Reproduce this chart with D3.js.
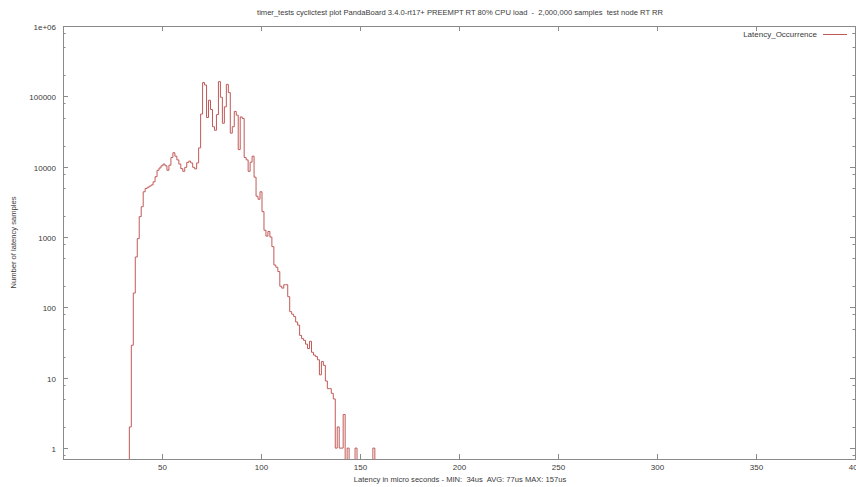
<!DOCTYPE html>
<html>
<head>
<meta charset="utf-8">
<script src="https://cdn.jsdelivr.net/npm/d3@7"></script>
<style>
  body { margin: 0; background: #fff; }
  svg text { font-family: "Liberation Sans", Arial, sans-serif; fill: #3a3a3a; white-space: pre; }
</style>
</head>
<body>
<script>
// latency histogram, one count per microsecond bin starting at firstBin
const firstBin = 34;
const counts = [
    2, 29, 160, 520, 950, 1950, 2700, 4400, 4900, 5100,            // 34-43
    5300, 5500, 6100, 7200, 8900, 9600, 10300, 10900, 10300, 8900, // 44-53
    10500, 13500, 15800, 14100, 12500, 10900, 9400, 8600, 9800, 11500, // 54-63
    12000, 11300, 9800, 9300, 11300, 18500, 56000, 157000, 145000, 50000, // 64-73
    88000, 65000, 37000, 33000, 55000, 162000, 97000, 41500, 71000, 148000, // 74-83
    113000, 30000, 37000, 61000, 54000, 17500, 51000, 48500, 13500, 12500, // 84-93
    8600, 11600, 14100, 7100, 3800, 3450, 4400, 2300, 1250, 1030, // 94-103
    1200, 1000, 730, 400, 372, 323, 200, 188, 210, 210,           // 104-113
    142, 87, 80, 74, 62, 56, 40, 36, 34, 30,                      // 114-123
    26, 33, 23, 21, 20, 18, 11, 17, 15, 9,                        // 124-133
    7, 7, 6, 5, 1, 2, 1, 1, 3, 0,                                 // 134-143
    1, 0, 0, 0, 1, 0, 0, 0, 0, 0,                                 // 144-153
    0, 0, 0, 1                                                    // 154-157
];
const xTicks = [50, 100, 150, 200, 250, 300, 350, 400];
const yTicks = [1, 10, 100, 1000, 10000, 100000, 1000000];
const yTickLabels = ["1", "10", "100", "1000", "10000", "100000", "1e+06"];
const minorSteps = [2, 5, 8];

const title = "timer_tests cyclictest plot PandaBoard 3.4.0-rt17+ PREEMPT RT 80% CPU load  -  2,000,000 samples  test node RT RR";
const xTitle = "Latency in micro seconds - MIN:  34us  AVG: 77us MAX: 157us";
const yTitle = "Number of latency samples";
const seriesName = "Latency_Occurrence";

function main(){
    const width = 856;
    const height = 487;
    const margin = {top: 26, right: 1, bottom: 28, left: 63};
    const w = width - margin.left - margin.right;
    const h = height - margin.top - margin.bottom;
    const lineColor = "#c05a58";
    const borderColor = "#8a8a8a";

    const svg = d3.select("body").append("svg")
        .attr("width", width)
        .attr("height", height);

    const g = svg.append("g")
        .attr("transform", "translate(" + margin.left + "," + margin.top + ")");

    const x = d3.scaleLinear().domain([0, 400]).range([0, w]);
    const y = d3.scaleLog().domain([0.7, 1e6]).range([h, 0]);

    // points incl. an empty bin on each side so the steps drop to the floor
    const pts = [{bin: firstBin - 1, v: 0}];
    counts.forEach(function(c, i){ pts.push({bin: firstBin + i, v: c}); });
    pts.push({bin: firstBin + counts.length, v: 0});

    g.append("clipPath").attr("id", "plotclip")
        .append("rect").attr("width", w).attr("height", h);

    const line = d3.line()
        .x(function(d){ return x(d.bin); })
        .y(function(d){ return d.v > 0 ? y(d.v) : h + 5; })
        .curve(d3.curveStep);

    g.append("path")
        .datum(pts)
        .attr("clip-path", "url(#plotclip)")
        .attr("fill", "none")
        .attr("stroke", lineColor)
        .attr("stroke-width", 1)
        .attr("d", line);

    // border box
    g.append("rect")
        .attr("x", 0.5).attr("y", 0.5)
        .attr("width", w).attr("height", h)
        .attr("fill", "none")
        .attr("stroke", borderColor)
        .attr("stroke-width", 1);

    // y ticks, mirrored on the right
    const minor = [];
    yTicks.forEach(function(t){
        minorSteps.forEach(function(m){
            const v = t * m / 10;
            if(v >= 0.7 && v <= 1e6) minor.push(v);
        });
    });
    minor.push(8e5);
    yTicks.forEach(function(t, i){
        const yy = Math.round(y(t)) + 0.5;
        g.append("line").attr("x1", 0).attr("x2", 5).attr("y1", yy).attr("y2", yy)
            .attr("stroke", borderColor);
        g.append("line").attr("x1", w - 5).attr("x2", w).attr("y1", yy).attr("y2", yy)
            .attr("stroke", borderColor);
        g.append("text")
            .attr("x", -7).attr("y", yy + 3)
            .attr("text-anchor", "end")
            .style("font-size", "8px")
            .text(yTickLabels[i]);
    });
    minor.forEach(function(v){
        const yy = Math.round(y(v)) + 0.5;
        g.append("line").attr("x1", 0).attr("x2", 2.5).attr("y1", yy).attr("y2", yy)
            .attr("stroke", borderColor);
        g.append("line").attr("x1", w - 2.5).attr("x2", w).attr("y1", yy).attr("y2", yy)
            .attr("stroke", borderColor);
    });

    // x ticks, mirrored on top
    xTicks.forEach(function(t){
        const xx = Math.round(x(t)) + 0.5;
        g.append("line").attr("x1", xx).attr("x2", xx).attr("y1", h).attr("y2", h - 5)
            .attr("stroke", borderColor);
        g.append("line").attr("x1", xx).attr("x2", xx).attr("y1", 0).attr("y2", 5)
            .attr("stroke", borderColor);
        g.append("text")
            .attr("x", xx).attr("y", h + 11)
            .attr("text-anchor", "middle")
            .style("font-size", "8px")
            .text(t);
    });

    // titles
    svg.append("text")
        .attr("x", 460).attr("y", 15)
        .attr("text-anchor", "middle")
        .style("font-size", "7.6px")
        .text(title);

    svg.append("text")
        .attr("x", 460).attr("y", 482)
        .attr("text-anchor", "middle")
        .style("font-size", "7.6px")
        .text(xTitle);

    svg.append("text")
        .attr("transform", "translate(16," + (margin.top + h / 2) + ") rotate(-90)")
        .attr("text-anchor", "middle")
        .style("font-size", "7.6px")
        .text(yTitle);

    // legend
    svg.append("text")
        .attr("x", 817).attr("y", 37)
        .attr("text-anchor", "end")
        .style("font-size", "8px")
        .text(seriesName);
    svg.append("line")
        .attr("x1", 823).attr("x2", 847).attr("y1", 34.5).attr("y2", 34.5)
        .attr("stroke", lineColor);
}
main();
</script>
</body>
</html>
